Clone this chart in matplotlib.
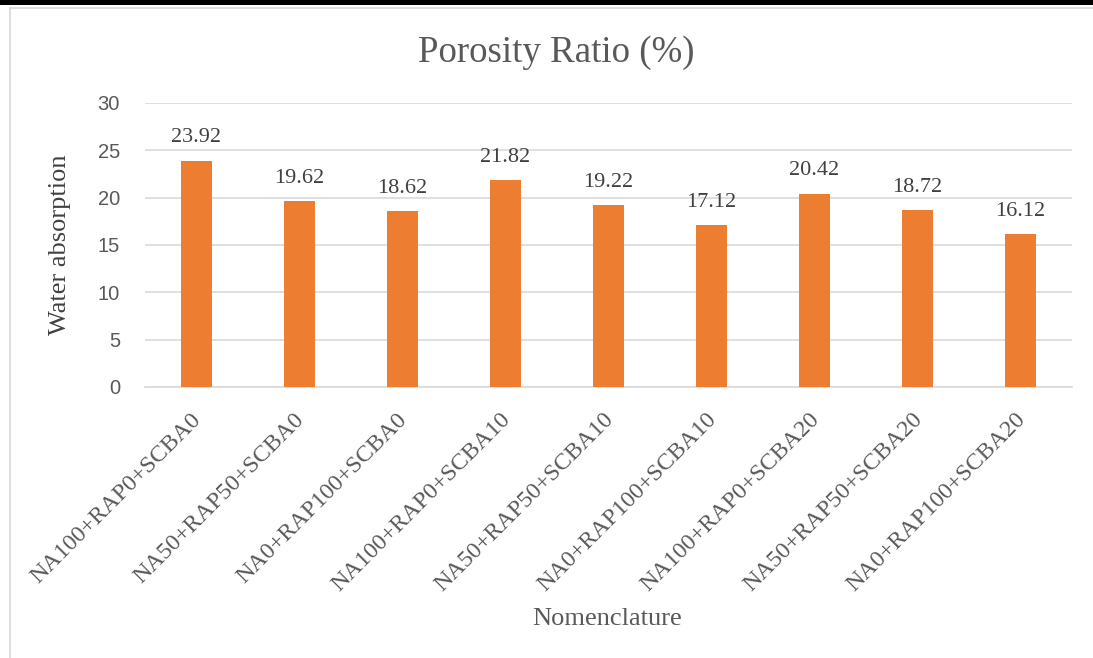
import matplotlib
matplotlib.use("Agg")
import matplotlib.pyplot as plt
from matplotlib.patches import Rectangle
from matplotlib.lines import Line2D
from matplotlib.transforms import ScaledTranslation

categories = ["NA100+RAP0+SCBA0", "NA50+RAP50+SCBA0", "NA0+RAP100+SCBA0",
              "NA100+RAP0+SCBA10", "NA50+RAP50+SCBA10", "NA0+RAP100+SCBA10",
              "NA100+RAP0+SCBA20", "NA50+RAP50+SCBA20", "NA0+RAP100+SCBA20"]
values = [23.92, 19.62, 18.62, 21.82, 19.22, 17.12, 20.42, 18.72, 16.12]
yticks = [0, 5, 10, 15, 20, 25, 30]

W, H = 1093, 658
fig = plt.figure(figsize=(W / 100, H / 100), dpi=100)
fig.patch.set_facecolor("white")

# frame decorations
fig.add_artist(Rectangle((0, 1 - 5 / H), 1, 5 / H, transform=fig.transFigure,
                         facecolor="black", edgecolor="none"))
fig.add_artist(Line2D([10 / W, 1], [1 - 7.5 / H, 1 - 7.5 / H], transform=fig.transFigure,
                      color="#D9D9D9", lw=1.2))
fig.add_artist(Line2D([10 / W, 10 / W], [0, 1 - 7.5 / H], transform=fig.transFigure,
                      color="#D9D9D9", lw=1.2))

ax = fig.add_axes([145 / W, 1 - 387 / H, (1072 - 145) / W, (387 - 103) / H])
x = range(len(categories))
bars = ax.bar(x, values, width=0.31, color="#ED7D31", zorder=3)
ax.set_xlim(-0.5, len(categories) - 0.5)
ax.set_ylim(0, 30)
ax.set_yticks(yticks)
ax.set_yticklabels([str(t) for t in yticks], fontfamily="Liberation Sans",
                   fontsize=14.5, color="#595959")
ax.grid(axis="y", color="#D9D9D9", lw=1.2, zorder=0)
ax.tick_params(axis="both", length=0)
ax.tick_params(axis="y", pad=18)
for s in ["top", "right", "left"]:
    ax.spines[s].set_visible(False)
ax.spines["bottom"].set_color("#D9D9D9")
ax.spines["bottom"].set_linewidth(1.2)

ax.set_xticks(list(x))
ax.set_xticklabels(categories, rotation=45, ha="right", rotation_mode="anchor",
                   fontfamily="Liberation Serif", fontsize=17.3, color="#595959")
ax.tick_params(axis="x", pad=16)
shift = ScaledTranslation(-6 / 100, 0, fig.dpi_scale_trans)
for lab in ax.get_xticklabels():
    lab.set_transform(lab.get_transform() + shift)

for xi, v in zip(x, values):
    ax.annotate(f"{v:.2f}", (xi, v), xytext=(0, 9.5), textcoords="offset points",
                ha="center", va="bottom", fontfamily="Liberation Serif",
                fontsize=16, color="#404040")

fig.text(556 / W, 1 - 62 / H, "Porosity Ratio (%)", ha="center", va="baseline",
         fontfamily="Liberation Serif", fontsize=26.6, color="#595959")
fig.text(60 / W, 1 - 245 / H, "Water absorption", ha="center", va="center",
         rotation=90, fontfamily="Liberation Serif", fontsize=19, color="#404040")
fig.text(607 / W, 1 - 625 / H, "Nomenclature", ha="center", va="baseline",
         fontfamily="Liberation Serif", fontsize=19, color="#595959")

fig.savefig("out.png", dpi=100, facecolor="white")
